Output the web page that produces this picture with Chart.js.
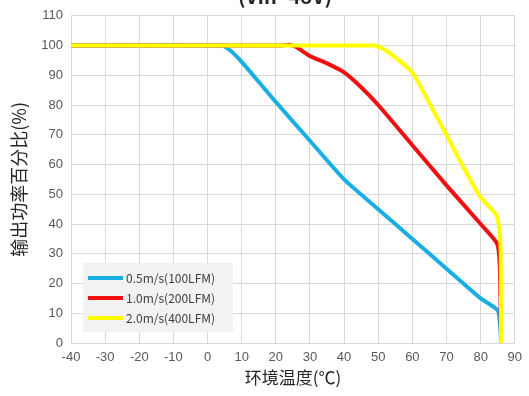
<!DOCTYPE html>
<html>
<head>
<meta charset="utf-8">
<script src="https://cdn.jsdelivr.net/npm/chart.js@4.4.0/dist/chart.umd.min.js"></script>
<style>
  html, body { margin: 0; padding: 0; background: #fff; }
  #wrap { width: 529px; height: 396px; position: relative; }
</style>
</head>
<body>
<div id="wrap"><canvas id="chart"></canvas></div>
<script>
// derating curves (temperature °C, output %)
const seriesLabels = ["0.5m/s(100LFM)", "1.0m/s(200LFM)", "2.0m/s(400LFM)"];
const seriesColors = ["#1aaee5", "#f01010", "#ffff00"];

const temp05 = [-40, 4, 6.5, 10, 20, 30, 40, 50, 60, 70, 80, 85, 85.7, 86];
const pct05  = [100, 100, 98.5, 94.5, 81, 68, 55, 45, 35, 25, 15, 11, 6, 0];

const temp10 = [-40, 22, 24, 26, 30, 35, 40, 45, 50, 60, 70, 80, 84.8, 85.6, 86];
const pct10  = [100, 100, 100.3, 99.5, 96.5, 94, 91, 86, 80, 66.5, 53, 40, 33.5, 26, 0];

const temp20 = [-40, 46, 49, 52, 55, 60, 66, 70, 75, 80, 84.6, 85.5, 85.9, 86];
const pct20  = [100, 100, 100, 98.5, 96, 91, 78.5, 70, 59, 49, 43, 38, 30, 0];

const xTicks = [-40, 90, 10];   // min, max, step
const yTicks = [0, 110, 10];

function pts(xs, ys) {
  return xs.map((x, i) => ({ x: x, y: ys[i] }));
}

const sans = "'Noto Sans CJK SC', 'Noto Sans', sans-serif";
const tickFont = "'Liberation Sans', Arial, sans-serif";

// legend drawn inside the plot, lower left
const insideLegend = {
  id: "insideLegend",
  afterDraw(chart) {
    const ctx = chart.ctx;
    const area = chart.chartArea;
    const x0 = area.left + 12, y0 = area.bottom - 80;
    ctx.save();
    ctx.fillStyle = "#f2f2f2";
    ctx.fillRect(x0, y0, 150, 69);
    ctx.font = "12px " + sans;
    ctx.textBaseline = "middle";
    chart.data.datasets.forEach((ds, i) => {
      const y = y0 + 15 + i * 20;
      ctx.strokeStyle = ds.borderColor;
      ctx.lineWidth = 4;
      ctx.beginPath();
      ctx.moveTo(x0 + 5, y);
      ctx.lineTo(x0 + 40, y);
      ctx.stroke();
      ctx.fillStyle = "#404040";
      ctx.fillText(ds.label, x0 + 43, y);
    });
    ctx.restore();
  }
};

// top title, mostly cut off by the picture edge
const topTitle = {
  id: "topTitle",
  afterDraw(chart) {
    const ctx = chart.ctx;
    ctx.save();
    ctx.font = "bold 20px " + sans;
    ctx.fillStyle = "#262626";
    ctx.textAlign = "center";
    ctx.textBaseline = "alphabetic";
    ctx.fillText("(Vin=48V)", 285, 4);
    ctx.restore();
  }
};

new Chart(document.getElementById("chart"), {
  type: "scatter",
  data: {
    datasets: [
      { label: seriesLabels[0], data: pts(temp05, pct05), borderColor: seriesColors[0], order: 3 },
      { label: seriesLabels[1], data: pts(temp10, pct10), borderColor: seriesColors[1], order: 2 },
      { label: seriesLabels[2], data: pts(temp20, pct20), borderColor: seriesColors[2], order: 1 }
    ].map(ds => Object.assign(ds, {
      showLine: true,
      borderWidth: 4,
      pointRadius: 0,
      tension: 0.2,
      backgroundColor: ds.borderColor
    }))
  },
  options: {
    responsive: true,
    maintainAspectRatio: false,
    animation: false,
    layout: { padding: { top: 14, right: 10, left: 4, bottom: 4 } },
    plugins: {
      legend: { display: false },
      tooltip: { enabled: false }
    },
    scales: {
      x: {
        type: "linear",
        min: xTicks[0], max: xTicks[1],
        ticks: { stepSize: xTicks[2], color: "#595959", font: { size: 13, family: tickFont }, padding: 7 },
        grid: { color: "#d9d9d9", drawTicks: false },
        border: { color: "#d9d9d9" },
        title: { display: true, text: "环境温度(℃)", color: "#262626", font: { size: 17, family: sans }, padding: { top: 0 } },
        afterFit(scale) { scale.height = 49; }
      },
      y: {
        min: yTicks[0], max: yTicks[1],
        ticks: { stepSize: yTicks[2], color: "#595959", font: { size: 13, family: tickFont }, padding: 8 },
        grid: { color: "#d9d9d9", drawTicks: false },
        border: { color: "#d9d9d9" },
        title: { display: true, text: "输出功率百分比(%)", color: "#262626", font: { size: 18, family: sans }, padding: { bottom: 6 } },
        afterFit(scale) { scale.width = 67; }
      }
    }
  },
  plugins: [insideLegend, topTitle]
});
</script>
</body>
</html>
